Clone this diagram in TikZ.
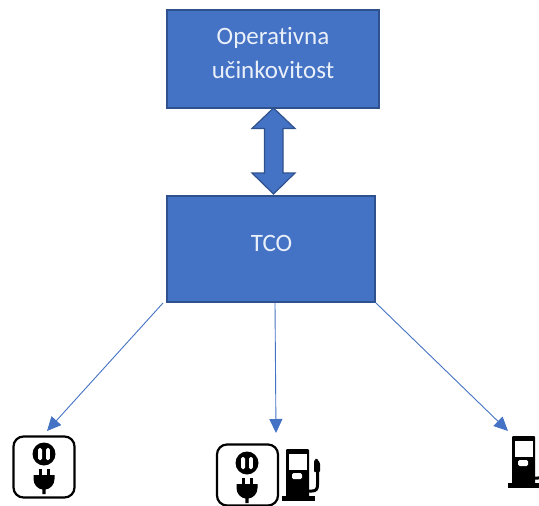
\documentclass[tikz,border=0pt]{standalone}
\usepackage{fontspec}
\setmainfont[Ligatures=NoCommon]{Carlito}
\usetikzlibrary{arrows.meta}
\definecolor{boxfill}{HTML}{4472C4}
\definecolor{boxline}{HTML}{2F528F}
\definecolor{boxtext}{HTML}{EAF0FA}
\tikzset{
  bluebox/.style={draw=boxline,fill=boxfill,line width=1.5pt,inner sep=0pt},
  boxlabel/.style={text=boxtext,align=center,inner sep=0pt,font=\fontsize{25}{33.5}\selectfont},
  link/.style={draw=boxfill,line width=0.9pt,-{Triangle[length=14pt,width=13pt]}},
  iconframe/.style={draw=black,line width=2.2pt,rounded corners=10pt,fill=white,inner sep=0pt,minimum width=61pt,minimum height=61pt},
  plugicon/.pic={
    \fill[black] (0,-13) circle (11.5);
    \fill[white,rounded corners=1.5pt] (-5.8,-19) rectangle (-2,-7);
    \fill[white,rounded corners=1.5pt] (2,-19) rectangle (5.8,-7);
    \fill[black] (-5.5,2) rectangle (-2.5,9);
    \fill[black] (2.5,2) rectangle (5.5,9);
    \fill[black] (-10.5,8) -- (10.5,8) -- (10.5,12) .. controls (10.5,18) and (6,22) .. (1.6,22.5) -- (1.6,27) -- (-1.6,27) -- (-1.6,22.5) .. controls (-6,22) and (-10.5,18) .. (-10.5,12) -- cycle;
  },
  pumpicon/.pic={
    \fill[black,rounded corners=1pt] (0,0) rectangle (23,50);
    \fill[black] (-4,47) rectangle (29,52);
    \fill[white] (2.5,4.5) rectangle (20.5,21);
    \fill[white,rounded corners=1.5pt] (6,24) rectangle (16,30);
    \draw[black,line width=3pt] (23,42) -- (26,42) .. controls (30,42) and (31.5,40) .. (31.5,36) -- (31.5,18);
    \fill[black,rounded corners=1pt] (28,12) -- (30.5,9) -- (34,14) -- (34,23) -- (28,23) -- cycle;
  }
}
\begin{document}
\begin{tikzpicture}[x=1pt,y=-1pt]
\useasboundingbox (0,0) rectangle (539,506);
\begin{scope}
\clip (0,0) rectangle (539,506);
\node[bluebox,minimum width=212pt,minimum height=98pt] (eff) at (273,59) {};
\node[bluebox,minimum width=208pt,minimum height=106pt] (tco) at (271,249) {};
\node[boxlabel] (efflabel) at (273,53) {Operativna\\učinkovitost};
\node[boxlabel] (tcolabel) at (271.5,243) {TCO};
\draw[boxline,fill=boxfill,line width=1.2pt] (273.5,108) -- (295,128.5) -- (283,128.5) -- (283,173) -- (295,173) -- (273.5,194) -- (252,173) -- (264.5,173) -- (264.5,128.5) -- (252,128.5) -- cycle;
\node[iconframe] (plugone) at (44,467) {};
\pic at (44,467) {plugicon};
\node[iconframe] (plugtwo) at (247.5,475) {};
\pic at (247,476) {plugicon};
\pic at (286,449) {pumpicon};
\pic at (512,436) {pumpicon};
\coordinate (pumpmid) at (276,433);
\coordinate (endleft) at (47,431);
\coordinate (endright) at (508,431);
\coordinate (startleft) at (163,303);
\coordinate (startmid) at (275,303);
\coordinate (startright) at (376,303);
\draw[link] (startleft) -- (endleft);
\draw[link] (startmid) -- (pumpmid);
\draw[link] (startright) -- (endright);
\end{scope}
\end{tikzpicture}
\end{document}
